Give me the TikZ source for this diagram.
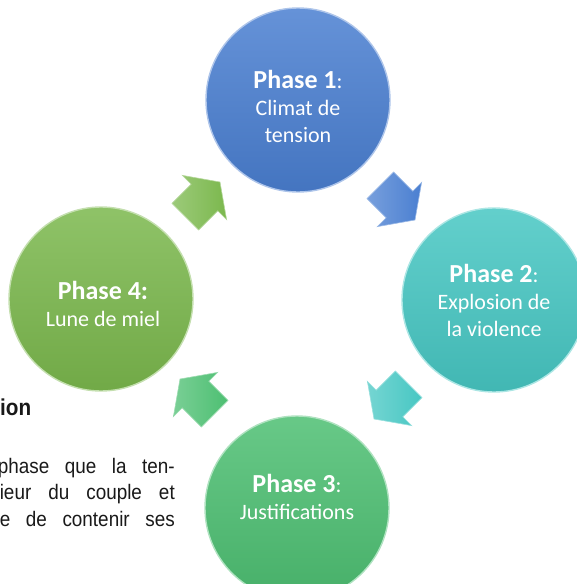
\documentclass[tikz,border=0pt]{standalone}
\usepackage{fontspec}
\setmainfont{Carlito}
\newfontfamily\narrowfont[FakeStretch=0.9]{Liberation Sans}
\usetikzlibrary{shapes.arrows}

\definecolor{phaseblue}{HTML}{4A7FD1}
\definecolor{phaseteal}{HTML}{47C7C3}
\definecolor{phasegreen}{HTML}{4DBF72}
\definecolor{phaselime}{HTML}{7BB84D}

\begin{document}
\begin{tikzpicture}[x=1pt,y=-1pt,
    phase/.style={circle,minimum size=184pt,inner sep=0pt,draw=white!55!#1,line width=1.4pt,
      top color=#1!85!white,bottom color=#1!92!black},
    phasetext/.style={text=white,align=center,font=\fontsize{22}{27}\selectfont},
    cyclearrow/.style={single arrow,minimum height=49pt,minimum width=62pt,inner sep=0pt,
      single arrow head extend=12.5pt,single arrow tip angle=110,
      left color=#1!75!white,right color=#1,draw=#1!55!white,line width=0.6pt},
    bodytext/.style={anchor=base east,inner sep=0pt,text=black!90,
      font=\narrowfont\fontsize{21}{26}\selectfont}]
  \useasboundingbox (0,0) rectangle (577,584);
  \clip (0,0) rectangle (577,584);

  % the four phases
  \node[phase=phaseblue]  (p1) at (298,100) {};
  \node[phase=phaseteal]  (p2) at (494,300) {};
  \node[phase=phasegreen] (p3) at (297,508) {};
  \node[phase=phaselime]  (p4) at (101,299) {};

  \node[phasetext] (t1) at ([yshift=-6pt]p1.center) {{\bfseries\fontsize{26}{27}\selectfont Phase 1}:\\Climat de\\tension};
  \node[phasetext] (t2) at (p2.center) {{\bfseries\fontsize{26}{27}\selectfont Phase 2}:\\Explosion de\\la violence};
  \node[phasetext] (t3) at ([yshift=11pt]p3.center) {{\bfseries\fontsize{26}{27}\selectfont Phase 3}:\\Justifications};
  \node[phasetext] (t4) at ([xshift=2pt,yshift=-5pt]p4.center) {{\bfseries\fontsize{26}{27}\selectfont Phase 4:}\\Lune de miel};

  % arrows of the cycle
  \node[cyclearrow=phaseblue,rotate=-45]   (a12) at (393,198) {\rule{0pt}{37pt}};
  \node[cyclearrow=phaseteal,rotate=-135]  (a23) at (396,397) {\rule{0pt}{37pt}};
  \node[cyclearrow=phasegreen,rotate=135]  (a34) at (202,401) {\rule{0pt}{37pt}};
  \node[cyclearrow=phaselime,rotate=45]    (a41) at (198,204) {\rule{0pt}{37pt}};

  % text of the page behind
  \node[anchor=base west,inner sep=0pt,text=black!90,
    font=\narrowfont\bfseries\fontsize{23}{26}\selectfont] (h1) at (0,415) {ion};
  \node[bodytext] (l1) at (175,473) {\makebox[177pt][s]{phase que la ten-}};
  \node[bodytext] (l2) at (175,499) {\makebox[175pt][s]{ieur du couple et}};
  \node[bodytext] (l3) at (175,526) {\makebox[175pt][s]{e de contenir ses}};
\end{tikzpicture}
\end{document}
